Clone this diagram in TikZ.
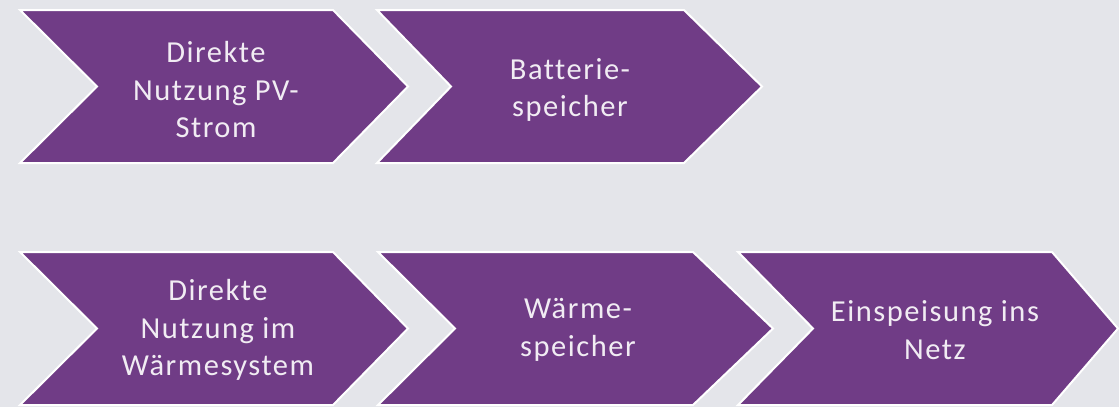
\documentclass[tikz,border=0pt]{standalone}
\usepackage{fontspec}
\setmainfont{Carlito}[LetterSpace=5, Ligatures=CommonOff]
\definecolor{bgcol}{HTML}{E4E5EA}
\definecolor{chevfill}{HTML}{703C86}
\definecolor{chevtext}{HTML}{F1ECF3}
\tikzset{
  chevshape/.style={fill=chevfill, draw=white, line width=2pt, line join=miter},
  chevlabel/.style={text=chevtext, align=center,
    font=\fontsize{30.5}{37.5}\selectfont, inner sep=0pt}
}
% chevron: #1 left, #2 right corner, #3 tip, #4 notch, #5 top, #6 bottom
\newcommand\drawchevron[6]{%
  \path[chevshape] (#1,#5) -- (#2,#5) -- (#3,{(#5+#6)/2}) -- (#2,#6)
    -- (#1,#6) -- (#4,{(#5+#6)/2}) -- cycle;}
\begin{document}
\begin{tikzpicture}[x=1pt,y=-1pt]
  \fill[bgcol] (0,0) rectangle (1119,407);
  \useasboundingbox (0,0) rectangle (1119,407);

  % upper row
  \drawchevron{20}{333}{408}{97}{10}{163}
  \drawchevron{377}{684}{762}{451}{10}{163}
  \node[chevlabel] (pv) at (216,90) {Direkte\\Nutzung PV-\\Strom};
  \node[chevlabel] (batt) at (570,90) {Batterie-\\speicher};

  % lower row
  \drawchevron{20}{333}{408}{97}{252}{405}
  \drawchevron{378}{693}{773}{455}{252}{405}
  \drawchevron{738}{1052}{1118}{813}{252}{405}
  \node[chevlabel] (heat) at (218,330) {Direkte\\Nutzung im\\Wärmesystem};
  \node[chevlabel] (store) at (578,330) {Wärme-\\speicher};
  \node[chevlabel] (grid) at (935,330) {Einspeisung ins\\Netz};
\end{tikzpicture}
\end{document}
